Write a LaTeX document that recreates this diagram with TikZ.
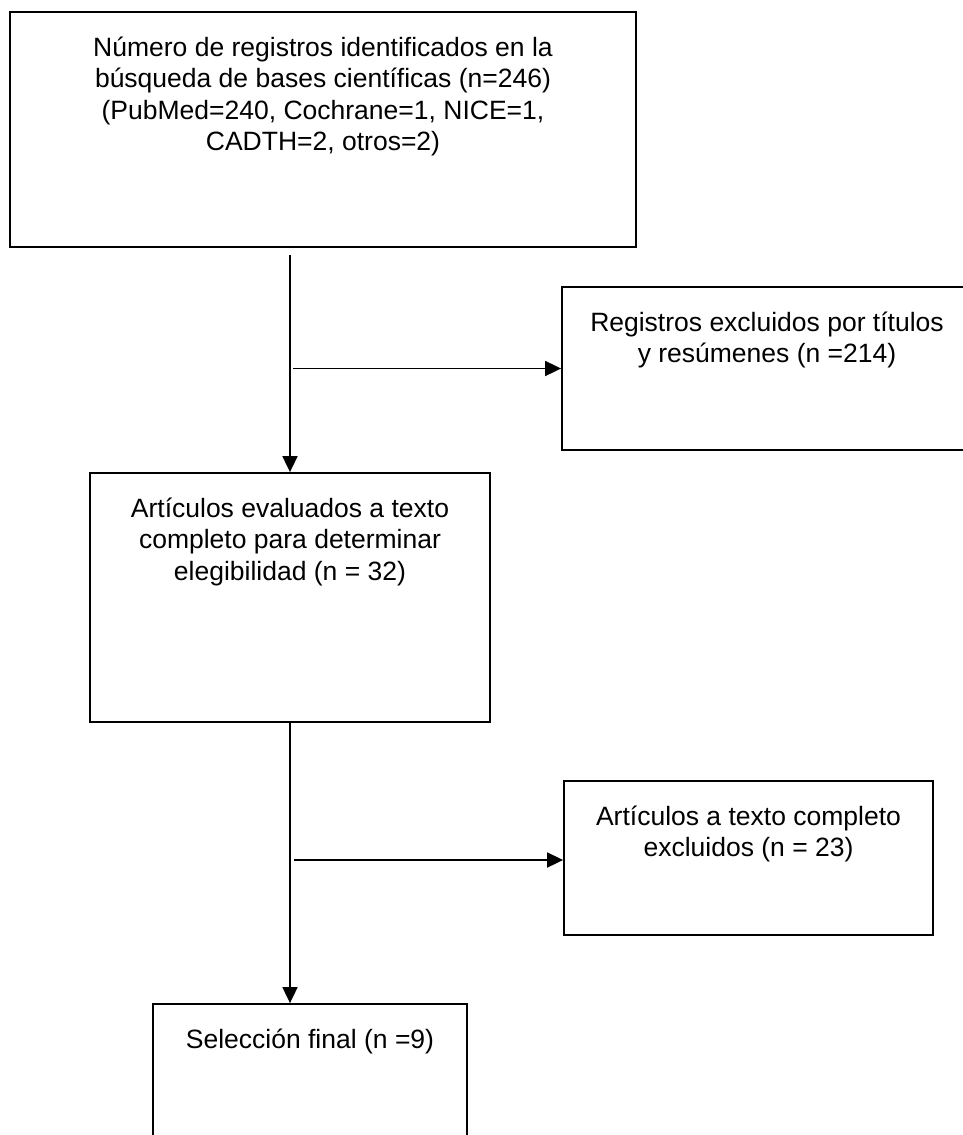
\documentclass[tikz,border=0pt]{standalone}
\usepackage{fontspec}
\setmainfont{Liberation Sans}
\usetikzlibrary{arrows.meta,calc}
\tikzset{
  box/.style={draw=black, line width=1.8pt, fill=white, inner sep=0pt},
  lbl/.style={anchor=base, align=center, inner sep=0pt, font=\fontsize{26.5}{31.5}\selectfont},
  arr/.style={line width=1.8pt, -{Triangle[length=16pt,width=15pt]}},
}
\begin{document}
\begin{tikzpicture}[x=1pt,y=-1pt]
\useasboundingbox (0,0) rectangle (963,1135);
\clip (0,0) rectangle (963,1135);
\fill[white] (0,0) rectangle (963,1135);
% boxes
\node[box, minimum width=626pt, minimum height=235pt] (b1) at (323,129.5) {};
\node[box, minimum width=410pt, minimum height=163pt] (b2) at (767,368.5) {};
\node[box, minimum width=400pt, minimum height=249pt] (b3) at (290,597.5) {};
\node[box, minimum width=369pt, minimum height=154pt] (b4) at (748.5,858) {};
\node[box, minimum width=314pt, minimum height=146pt] (b5) at (310,1077) {};
% texts (base anchor = baseline of the last line)
\node[lbl] (t1) at ($(b1.north)+(0,139.5)$) {Número de registros identificados en la\\búsqueda de bases científicas (n=246)\\(PubMed=240, Cochrane=1, NICE=1,\\CADTH=2, otros=2)};
\node[lbl] (t2) at ($(b2.north)+(0,76.5)$) {Registros excluidos por títulos\\y resúmenes (n =214)};
\node[lbl] (t3) at ($(b3.north)+(0,108)$) {Artículos evaluados a texto\\completo para determinar\\elegibilidad (n = 32)};
\node[lbl] (t4) at ($(b4.north)+(0,76.5)$) {Artículos a texto completo\\excluidos (n = 23)};
\node[lbl] (t5) at ($(b5.north)+(0,45)$) {Selección final (n =9)};
% connectors
\coordinate (v1) at (290,255);
\coordinate (h1) at (293,368.5);
\coordinate (h2) at (294,860);
\draw[arr] (v1) -- (v1 |- b3.north);
\draw[arr] (h1) -- (b2.west |- h1);
\draw[arr] (b3.south) -- (b3.south |- b5.north);
\draw[arr] (h2) -- (b4.west |- h2);
\end{tikzpicture}
\end{document}
